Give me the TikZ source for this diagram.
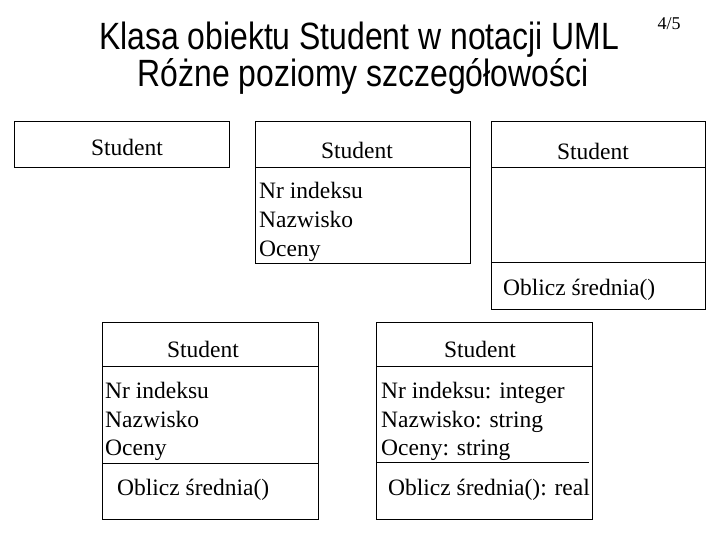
\documentclass[tikz,border=0pt]{standalone}
\usepackage{fontspec}
\setmainfont{Liberation Serif}
\newfontfamily\titlefont[FakeStretch=0.84]{Liberation Sans}
\begin{document}
\begin{tikzpicture}[x=1pt,y=-1pt,
  box/.style={draw=black,line width=1pt},
  cls/.style={font=\fontsize{23.5}{28}\selectfont,inner sep=0pt,anchor=base},
  attr/.style={font=\fontsize{23.5}{28}\selectfont,inner sep=0pt,anchor=base west},
  ttl/.style={font=\titlefont\fontsize{38}{42}\selectfont,inner sep=0pt,anchor=base}]
\useasboundingbox (0,0) rectangle (720,540);
% title
\node[ttl] (t1) at (359,50) {Klasa obiektu Student w notacji UML};
\node[ttl] (t2) at (363,87) {Różne poziomy szczegółowości};
\node[font=\fontsize{18}{21}\selectfont,inner sep=0pt,anchor=base] (pg) at (669,30) {4/5};
% box 1
\draw[box] (14,122) rectangle (229,168);
\node[cls] (s1) at (127,156) {Student};
% box 2
\draw[box] (255,122) rectangle (470,263);
\draw[box] (255,168) -- (470,168);
\node[cls] (s2) at (357,159) {Student};
\node[attr] (a21) at (259,199) {Nr indeksu};
\node[attr] (a22) at (259,227) {Nazwisko};
\node[attr] (a23) at (259,256) {Oceny};
% box 3
\draw[box] (491,122) rectangle (705,309);
\draw[box] (491,168) -- (705,168);
\draw[box] (491,262) -- (705,262);
\node[cls] (s3) at (593,160) {Student};
\node[attr] (m3) at (503,295) {Oblicz średnia()};
% box 4
\draw[box] (102,322) rectangle (318,519);
\draw[box] (102,366) -- (318,366);
\draw[box] (102,463) -- (318,463);
\node[cls] (s4) at (203,357) {Student};
\node[attr] (a41) at (105,398) {Nr indeksu};
\node[attr] (a42) at (105,427) {Nazwisko};
\node[attr] (a43) at (105,455) {Oceny};
\node[attr] (m4) at (117,495) {Oblicz średnia()};
% box 5
\draw[box] (376,322) rectangle (592,519);
\draw[box] (376,366) -- (592,366);
\draw[box] (376,462) -- (589,462);
\node[cls] (s5) at (480,357) {Student};
\node[attr] (a51) at (381,398) {Nr indeksu: integer};
\node[attr] (a52) at (381,427) {Nazwisko: string};
\node[attr] (a53) at (381,455) {Oceny: string};
\node[attr] (m5) at (388,495) {Oblicz średnia(): real};
\end{tikzpicture}
\end{document}
